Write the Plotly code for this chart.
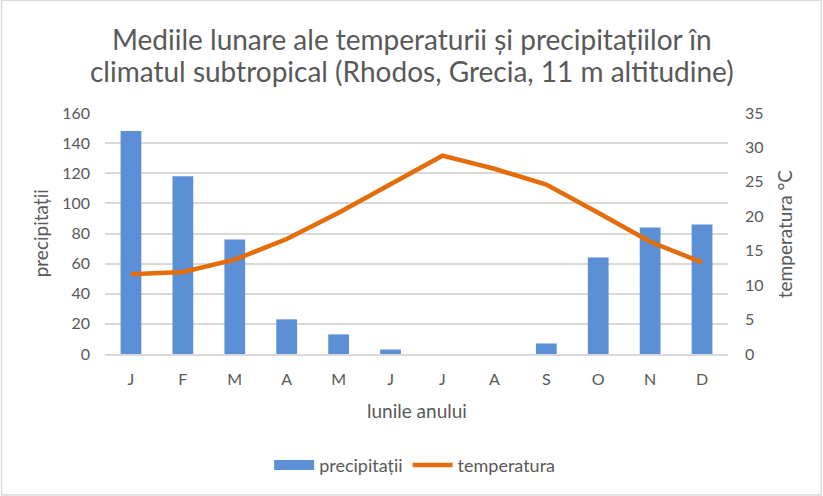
import plotly.graph_objects as go

month_labels = ["J", "F", "M", "A", "M", "J", "J", "A", "S", "O", "N", "D"]
precipitatii = [148, 118, 76, 23, 13, 3, 0, 0, 7, 64, 84, 86]
temperatura = [11.6, 11.9, 13.7, 16.7, 20.5, 24.7, 28.8, 26.9, 24.6, 20.5, 16.3, 13.3]
left_ticks = [0, 20, 40, 60, 80, 100, 120, 140, 160]
right_ticks = [0, 5, 10, 15, 20, 25, 30, 35]
title_lines = ["Mediile lunare ale temperaturii și precipitațiilor în",
               "climatul subtropical (Rhodos, Grecia, 11 m altitudine)"]

x = list(range(len(month_labels)))
FONT = "Lato, Open Sans, sans-serif"
GRAY = "#595959"
BLUE = "#5B8FD6"
ORANGE = "#E46C0A"

fig = go.Figure()
fig.add_trace(go.Bar(x=x, y=precipitatii, name="precipitații", showlegend=False,
                     marker=dict(color=BLUE, line=dict(width=0)), yaxis="y"))
# legend-only entry with a wide blue block, like the original legend swatch
fig.add_trace(go.Scatter(x=[None], y=[None], name="precipitații", mode="lines",
                         line=dict(color=BLUE, width=10), yaxis="y"))
fig.add_trace(go.Scatter(x=x, y=temperatura, name="temperatura", mode="lines",
                         line=dict(color=ORANGE, width=4.5), yaxis="y2"))

fig.update_layout(
    width=823, height=496,
    margin=dict(l=105, r=95, t=113, b=142, autoexpand=False),
    paper_bgcolor="white", plot_bgcolor="white",
    font=dict(family=FONT, color=GRAY, size=16),
    bargap=0.6,
    showlegend=True,
    xaxis=dict(tickmode="array", tickvals=x, ticktext=month_labels,
               range=[-0.5, 11.5], showgrid=False, zeroline=False,
               showline=True, linecolor="#D9D9D9", linewidth=1.5,
               ticks="", ticklabelstandoff=10, tickfont=dict(size=16, color=GRAY)),
    yaxis=dict(range=[0, 160], tickvals=left_ticks, showgrid=True,
               gridcolor="#D9D9D9", gridwidth=1.5, zeroline=False,
               showline=False, ticks="", ticklabelstandoff=14,
               tickfont=dict(size=16, color=GRAY)),
    yaxis2=dict(range=[0, 35], tickvals=right_ticks, overlaying="y", side="right",
                showgrid=False, zeroline=False, showline=False, ticks="",
                ticklabelstandoff=16, tickfont=dict(size=16, color=GRAY)),
    legend=dict(orientation="h", x=0.497, xanchor="center", y=-0.4615, yanchor="middle",
                font=dict(size=18, color=GRAY), itemwidth=40, tracegroupgap=0),
    annotations=[
        dict(text=title_lines[0], xref="paper", yref="paper", x=0.492, y=1.306,
             xanchor="center", yanchor="middle", showarrow=False,
             font=dict(size=28, color=GRAY)),
        dict(text=title_lines[1], xref="paper", yref="paper", x=0.492, y=1.173,
             xanchor="center", yanchor="middle", showarrow=False,
             font=dict(size=28, color=GRAY)),
        dict(text="precipitații", xref="paper", yref="paper", x=-0.103, y=0.5,
             xanchor="center", yanchor="middle", textangle=-90, showarrow=False,
             font=dict(size=19, color=GRAY)),
        dict(text="temperatura °C", xref="paper", yref="paper", x=1.091, y=0.5,
             xanchor="center", yanchor="middle", textangle=-90, showarrow=False,
             font=dict(size=19, color=GRAY)),
        dict(text="lunile anului", xref="paper", yref="paper", x=0.5, y=-0.233,
             xanchor="center", yanchor="middle", showarrow=False,
             font=dict(size=19, color=GRAY)),
    ],
    shapes=[dict(type="rect", xref="paper", yref="paper", x0=-0.166, x1=1.150,
                 y0=-0.585, y1=1.468, line=dict(color="#D9D9D9", width=1.5))],
)

fig.write_html("out.html", config={"displayModeBar": False},
               post_script="document.body.style.margin='0';")
